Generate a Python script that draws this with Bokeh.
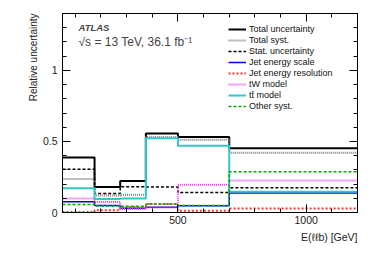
from bokeh.plotting import figure
from bokeh.models import (FixedTicker, LinearAxis, Label, Legend, LegendItem,
                          CustomJSTickFormatter, Range1d, Title)
from bokeh.embed import file_html
from bokeh.resources import INLINE

# ---------------- data ----------------
bin_edges = [50, 175, 275, 375, 500, 700, 1200]
total_unc = [0.387, 0.180, 0.221, 0.556, 0.532, 0.452]
total_syst = [0.236, 0.119, 0.125, 0.532, 0.512, 0.420]
stat_unc = [0.304, 0.133, 0.182, 0.180, 0.140, 0.174]
jes = [0.075, 0.050, 0.030, 0.037, 0.048, 0.138]
jer = [0.003, 0.015, 0.039, 0.059, 0.012, 0.028]
tw_model = [0.098, 0.074, 0.025, 0.036, 0.195, 0.226]
tt_model = [0.170, 0.095, 0.098, 0.522, 0.470, 0.146]
other_syst = [0.056, 0.046, 0.044, 0.060, 0.050, 0.286]

series_labels = ["Total uncertainty", "Total syst.", "Stat. uncertainty",
                 "Jet energy scale", "Jet energy resolution", "tW model",
                 "tt\u0304 model", "Other syst."]

x_major_ticks = [500, 1000]
x_minor_ticks = [100, 200, 300, 400, 600, 700, 800, 900, 1100, 1200]
y_major_ticks = [0, 0.5, 1]
y_minor_ticks = [0.1, 0.2, 0.3, 0.4, 0.6, 0.7, 0.8, 0.9, 1.1, 1.2, 1.3, 1.4]
x_range = (50, 1200)
y_range = (0, 1.4)

# ---------------- figure ----------------
FONT = "Liberation Sans"
p = figure(width=366, height=245, output_backend="svg", toolbar_location=None,
           x_range=Range1d(*x_range), y_range=Range1d(*y_range),
           min_border_left=62, min_border_right=9, min_border_top=13,
           min_border_bottom=33)
p.grid.visible = False
p.outline_line_color = "black"
p.outline_line_width = 1
p.background_fill_color = "white"
p.border_fill_color = "white"

fmt = CustomJSTickFormatter(code="return String(Math.round(tick*10)/10);")
blank = CustomJSTickFormatter(code="return '';")

def style_axis(ax, ticks, minor, labels=True, standoff=4):
    ax.ticker = FixedTicker(ticks=ticks, minor_ticks=minor)
    ax.major_tick_in = 8
    ax.major_tick_out = 0
    ax.minor_tick_in = 4
    ax.minor_tick_out = 0
    ax.axis_line_color = "black"
    ax.major_tick_line_color = "black"
    ax.minor_tick_line_color = "black"
    if labels:
        ax.major_label_text_font = FONT
        ax.major_label_text_font_size = "10.5px"
        ax.major_label_text_color = "#222222"
        ax.major_label_standoff = standoff
        ax.formatter = fmt
    else:
        ax.formatter = blank
        ax.major_label_standoff = 0

style_axis(p.xaxis[0], x_major_ticks, x_minor_ticks, standoff=3)
style_axis(p.yaxis[0], y_major_ticks, y_minor_ticks, standoff=5)
top_ax = LinearAxis()
style_axis(top_ax, x_major_ticks, x_minor_ticks, labels=False)
right_ax = LinearAxis()
style_axis(right_ax, y_major_ticks, y_minor_ticks, labels=False)
p.add_layout(top_ax, "above")
p.add_layout(right_ax, "right")

# axis titles (ROOT style: aligned to the axis end)
p.add_layout(Title(text="Relative uncertainty", align="right", text_font=FONT,
                   text_font_size="10px", text_font_style="normal",
                   text_color="#222222", standoff=1), "left")
p.add_layout(Title(text="E(\u2113\u2113b) [GeV]", align="right", text_font=FONT,
                   text_font_size="10.5px", text_font_style="normal",
                   text_color="#222222", standoff=5), "below")

styles = [
    dict(color="black", dash="solid", width=2),
    dict(color="#808080", dash="1 1", width=2),
    dict(color="black", dash="3 2", width=1.5),
    dict(color="#0000ee", dash="solid", width=1.5),
    dict(color="#ff3030", dash="2 2", width=2),
    dict(color="#ee44ee", dash="1 1", width=2),
    dict(color="#30c8c8", dash="solid", width=2),
    dict(color="#00aa00", dash="3 2", width=1.5),
]
all_series = [total_unc, total_syst, stat_unc, jes, jer, tw_model, tt_model, other_syst]

items = []
for lab, vals, st in zip(series_labels, all_series, styles):
    r = p.step(x=bin_edges, y=vals + [vals[-1]], mode="after",
               line_color=st["color"], line_dash=st["dash"], line_width=st["width"])
    items.append(LegendItem(label=lab, renderers=[r]))

leg = Legend(items=items, location=(166, 101), orientation="vertical",
             label_text_font=FONT, label_text_font_size="9px",
             label_text_color="#111111",
             glyph_width=18, glyph_height=10, label_height=10,
             label_standoff=3, spacing=1, padding=0, margin=0,
             border_line_alpha=0, background_fill_alpha=0)
p.add_layout(leg, "center")

# ---------------- in-frame text labels (pixel -> data helpers) ----------------
FL, FR, FT, FB = 60, 355, 13, 212  # frame pixel bounds in the reference
def dx(px):
    return x_range[0] + (px - FL) * (x_range[1] - x_range[0]) / (FR - FL)
def dy(py):
    return y_range[0] + (FB - py) * (y_range[1] - y_range[0]) / (FB - FT)

p.add_layout(Label(x=dx(76), y=dy(26.5), text="ATLAS", text_font=FONT,
                   text_font_style="bold italic", text_font_size="9.5px",
                   text_baseline="middle", text_align="left"))
p.add_layout(Label(x=dx(76), y=dy(41), text="\u221As = 13 TeV, 36.1 fb\u207B\u00B9",
                   text_font=FONT, text_font_size="12px",
                   text_baseline="middle", text_align="left"))

open("out.html", "w").write(file_html(p, INLINE))
